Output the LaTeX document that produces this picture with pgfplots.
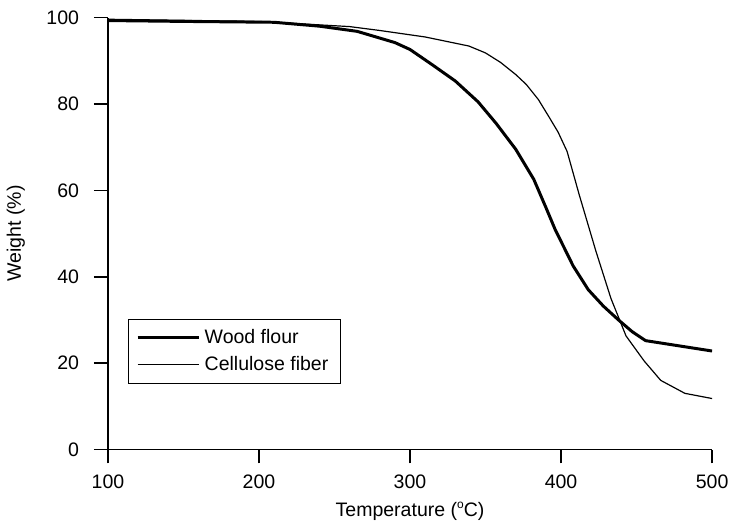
\documentclass[border=0pt]{standalone}
\usepackage{pgfplots}
\pgfplotsset{compat=1.18}
\usepackage{fontspec}
\setmainfont{Liberation Sans}

\begin{document}
\begin{tikzpicture}
\begin{axis}[
width=303.5pt, height=217pt,
scale only axis,
xmin=100, xmax=500,
ymin=0, ymax=100,
axis x line*=bottom,
axis y line*=left,
axis line style={-, line width=0.8pt},
xtick={100,200,...,500},
ytick={0,20,...,100},
tick align=outside,
major tick length=7pt,
tick style={line width=0.8pt, black},
/pgf/number format/assume math mode=true,
ticklabel style={font=\fontsize{9.8}{11}\selectfont},
xticklabel style={yshift=-2pt},
yticklabel style={xshift=-4pt},
xlabel={Temperature (\raisebox{0.8ex}{\fontsize{6}{6}\selectfont o}C)},
ylabel={Weight (\%)},
label style={font=\fontsize{9.8}{11}\selectfont},
xlabel style={yshift=0pt},
ylabel style={yshift=4pt},
legend style={at={(axis cs:113,30.3)}, anchor=north west,
  draw=black, line width=0.5pt,
  font=\fontsize{9.8}{11}\selectfont,
  inner xsep=4pt, inner ysep=3pt,
  row sep=1pt,
  legend cell align=left},
legend image code/.code={\draw[#1] (0cm,0cm) -- (31pt,0cm);},
]
\addplot[black, line width=1.5pt, line join=round] coordinates {
(100,99.3)(150,99.1)(210,98.9)(240,98.0)(265,96.8)(290,94.2)(300,92.6)
(315,89.0)(330,85.3)(345,80.5)(357,75.5)(370,69.5)(382,62.5)(390,56)
(396,51)(408,42.5)(418,37)(428,33.2)(438,30)(447,27.3)(456,25.2)(500,22.8)
};
\addplot[black, line width=0.6pt, line join=round] coordinates {
(100,99.6)(200,99.1)(260,97.9)(280,97.0)(310,95.5)(339,93.4)(350,91.8)
(360,89.6)(370,86.8)(377,84.5)(385,81)(392,77)(398,73.5)(404,69)
(412,59)(423,46)(433,35)(443,26.3)(455,20.5)(466,16)(482,13)(500,11.8)
};
\legend{Wood flour, Cellulose fiber}
\end{axis}
% a little white margin above, as in the reference
\path ([yshift=2pt]current axis.outer north) (current axis.outer south);
\end{tikzpicture}
\end{document}
